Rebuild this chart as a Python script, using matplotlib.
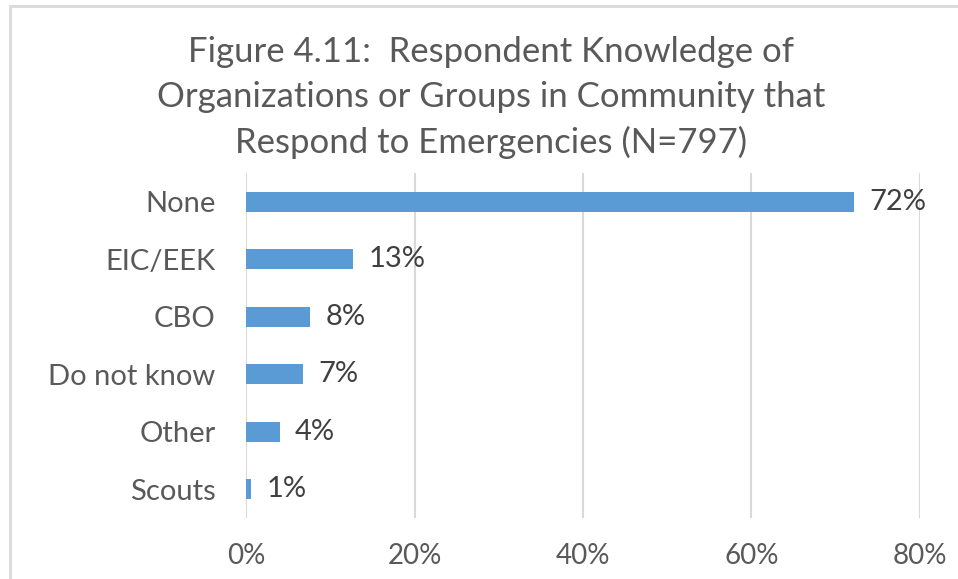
import matplotlib.pyplot as plt
from matplotlib.patches import Rectangle

categories = ['None', 'EIC/EEK', 'CBO', 'Do not know', 'Other', 'Scouts']
shares = [72.2, 12.7, 7.6, 6.8, 4.0, 0.6]
xticks = [0, 20, 40, 60, 80]

plt.rcParams['font.family'] = ['Lato', 'DejaVu Sans']

fig = plt.figure(figsize=(9.58, 5.79), dpi=100)
ax = fig.add_axes([0.2568, 0.1054, 0.7035, 0.5958])

# chart frame, runs off the right and bottom edges
fig.patches.append(Rectangle((10 / 958, -0.05), 1.1, 1 - 6 / 579 + 0.05,
                             transform=fig.transFigure, fill=False,
                             edgecolor='#d9d9d9', linewidth=2))

ypos = range(len(categories))
ax.barh(ypos, shares, height=0.345, color='#5b9bd5', zorder=3)
for y, v in zip(ypos, shares):
    ax.text(v + 1.8, y, f'{round(v)}%', va='center', ha='left',
            fontsize=21, color='#404040')

ax.set_ylim(len(categories) - 0.5, -0.5)
ax.set_yticks(list(ypos))
ax.set_yticklabels(categories)
ax.set_xlim(0, 80)
ax.set_xticks(xticks)
ax.set_xticklabels([f'{t}%' for t in xticks])
ax.tick_params(axis='y', length=0, pad=22, labelsize=21, labelcolor='#595959')
ax.tick_params(axis='x', length=0, pad=18, labelsize=20, labelcolor='#595959')
ax.grid(axis='x', color='#d9d9d9', linewidth=1.5, zorder=0)
for s in ax.spines.values():
    s.set_visible(False)

fig.text(0.5125, 0.938, 'Figure 4.11:  Respondent Knowledge of\n'
         'Organizations or Groups in Community that\n'
         'Respond to Emergencies (N=797)',
         ha='center', va='top', fontsize=25, color='#595959', linespacing=1.49)

fig.savefig('out.png', dpi=100)
